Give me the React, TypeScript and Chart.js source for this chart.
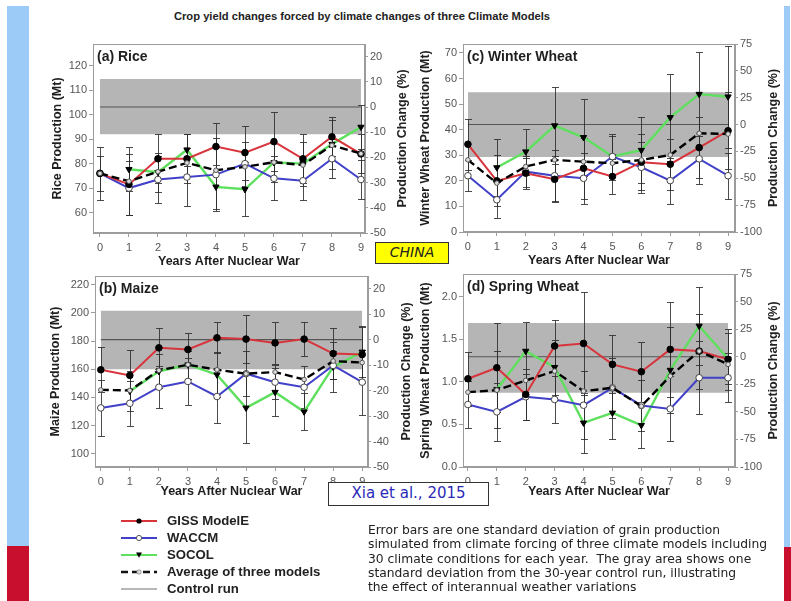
import React, { useEffect, useRef } from "react";
import { Chart, registerables } from "chart.js";

Chart.register(...registerables);

const FONT = "'Liberation Sans', Arial, Helvetica, sans-serif";
const NOTE_FONT = "'DejaVu Sans', Verdana, sans-serif";

const RED = "#d8343c";
const BLUE = "#4040c8";
const GREEN = "#5ee05e";
const BAND = "#b5b5b5";
const FRAME = "#9c9c9c";

const years = [0, 1, 2, 3, 4, 5, 6, 7, 8, 9];

// (a) Rice (Mt)
const riceGiss = [76, 71.5, 82, 82, 87, 84.5, 89, 82, 91, 84];
const riceWaccm = [76, 70, 73.5, 74.5, 75.5, 80, 74, 73, 82, 73.5];
const riceSocol = [null, 77.7, 76.5, 85.7, 70.5, 69.5, 80.5, 80, 88, 95];
const riceAvg = [76, 72.8, 76.7, 80.3, 77.3, 78.7, 80.6, 79.4, 87.5, 84.1];
const riceGissErr = [11, 12.5, 10, 10, 9.5, 11, 12, 10, 8, 8];
const riceWaccmErr = [7, 11, 9.5, 12, 15, 9, 9, 8, 8, 8];
const riceSocolErr = [null, 9, 8, 6.5, 9, 11, 8, 9, 10, 9];
const riceControl = 103.2;
const riceBand = [92, 114.7];

// (b) Maize (Mt)
const maizeGiss = [159.6, 155.6, 175.2, 174, 182.3, 181.4, 178.7, 181.4, 171.1, 170.4];
const maizeWaccm = [132.5, 135.8, 147.2, 151.3, 140.6, 156.8, 150.8, 147.2, 162.7, 150.8];
const maizeSocol = [null, 144.4, 158.5, 163.2, 156.1, 132.5, 143.7, 129.8, 161.6, 172.3];
const maizeAvg = [145.3, 144.9, 159.2, 163.2, 159.6, 156.8, 158, 152.7, 165.8, 164.7];
const maizeGissErr = [16, 18, 14, 12, 11, 17, 15, 12, 18, 20];
const maizeWaccmErr = [20, 16, 15, 17, 19, 16, 12, 15, 10, 23];
const maizeSocolErr = [null, 14, 12, 10, 16, 25, 17, 13, 18, 18];
const maizeControl = 181;
const maizeBand = [160, 201.5];

// (c) Winter Wheat (Mt)
const wwGiss = [34.3, 20, 23, 20.6, 24.9, 21.7, 27.3, 26.5, 33, 39.6];
const wwWaccm = [22, 12.6, 23.6, 22, 21, 29.5, 25.3, 20.1, 28.6, 22];
const wwSocol = [null, 25.2, 31.4, 41.6, 37, 29.5, 32, 44.8, 53.9, 52.9];
const wwAvg = [28.2, 19.1, 25.6, 28.2, 27.5, 26.9, 28.2, 30.1, 38.6, 38.3];
const wwGissErr = [10, 10, 6, 9, 12, 7, 11, 10, 12, 15];
const wwWaccmErr = [6, 7, 6, 10, 10, 9, 10, 9, 10, 9];
const wwSocolErr = [null, 11, 9, 15, 15, 8, 13, 17, 16.5, 20];
const wwControl = 42;
const wwBand = [29.3, 54.6];

// (d) Spring Wheat (Mt)
const swGiss = [1.035, 1.165, 0.851, 1.42, 1.45, 1.204, 1.118, 1.38, 1.36, 1.263];
const swWaccm = [0.733, 0.647, 0.824, 0.792, 0.725, 0.929, 0.722, 0.682, 1.047, 1.047];
const swSocol = [null, 0.91, 1.36, 1.17, 0.518, 0.635, 0.49, 1.137, 1.655, 1.27];
const swAvg = [0.878, 0.902, 1.016, 1.125, 0.89, 0.929, 0.714, 1.067, 1.36, 1.204];
const swGissErr = [0.32, 0.52, 0.3, 0.31, 0.6, 0.34, 0.35, 0.56, 0.44, 0.36];
const swWaccmErr = [0.28, 0.34, 0.27, 0.27, 0.4, 0.35, 0.3, 0.38, 0.43, 0.29];
const swSocolErr = [null, 0.45, 0.34, 0.32, 0.35, 0.31, 0.27, 0.5, 0.46, 0.3];
const swControl = 1.294;
const swBand = [0.87, 1.69];

// tick labels
const riceTicks = [60, 70, 80, 90, 100, 110, 120];
const maizeTicks = [100, 120, 140, 160, 180, 200, 220];
const wwTicks = [0, 10, 20, 30, 40, 50, 60, 70];
const swTicks = [0, 0.5, 1, 1.5, 2];
const pctTicksSmall = [-50, -40, -30, -20, -10, 0, 10, 20];
const pctTicksLarge = [-100, -75, -50, -25, 0, 25, 50, 75];

const xTitle = "Years After Nuclear War";
const rTitle = "Production Change (%)";
const mainTitle = "Crop yield changes forced by climate changes of three Climate Models";
const legendLabels = ["GISS ModelE", "WACCM", "SOCOL", "Average of three models", "Control run"];
const noteLines = [
  "Error bars are one standard deviation of grain production",
  "simulated from climate forcing of three climate models including",
  "30 climate conditions for each year.  The gray area shows one",
  "standard deviation from the 30-year control run, illustrating",
  "the effect of interannual weather variations",
];

const panels = [
  {
    label: "(a) Rice", yTitle: "Rice Production (Mt)",
    giss: riceGiss, waccm: riceWaccm, socol: riceSocol, avg: riceAvg,
    gissErr: riceGissErr, waccmErr: riceWaccmErr, socolErr: riceSocolErr,
    control: riceControl, band: riceBand, yTicks: riceTicks, pctTicks: pctTicksSmall,
    pctMin: -50, pctMax: 25, dec: 0,
    geo: { cx: 40, cy: 30, cw: 380, ch: 250, L: 93, R: 365, T: 44, B: 233, lt: 58, rt: 403, xt: 262, xMin: -0.24, xMax: 9.14 },
  },
  {
    label: "(b) Maize", yTitle: "Maize Production (Mt)",
    giss: maizeGiss, waccm: maizeWaccm, socol: maizeSocol, avg: maizeAvg,
    gissErr: maizeGissErr, waccmErr: maizeWaccmErr, socolErr: maizeSocolErr,
    control: maizeControl, band: maizeBand, yTicks: maizeTicks, pctTicks: pctTicksSmall,
    pctMin: -50, pctMax: 25, dec: 0,
    geo: { cx: 40, cy: 262, cw: 380, ch: 246, L: 95, R: 368, T: 276, B: 467, lt: 56, rt: 407, xt: 492, xMin: -0.2, xMax: 9.2 },
  },
  {
    label: "(c) Winter Wheat", yTitle: "Winter Wheat Production (Mt)",
    giss: wwGiss, waccm: wwWaccm, socol: wwSocol, avg: wwAvg,
    gissErr: wwGissErr, waccmErr: wwWaccmErr, socolErr: wwSocolErr,
    control: wwControl, band: wwBand, yTicks: wwTicks, pctTicks: pctTicksLarge,
    pctMin: -100, pctMax: 75, dec: 0,
    geo: { cx: 412, cy: 30, cw: 379, ch: 250, L: 463, R: 735, T: 44, B: 232, lt: 426, rt: 774, xt: 261, xMin: -0.17, xMax: 9.24 },
  },
  {
    label: "(d) Spring Wheat", yTitle: "Spring Wheat Production (Mt)",
    giss: swGiss, waccm: swWaccm, socol: swSocol, avg: swAvg,
    gissErr: swGissErr, waccmErr: swWaccmErr, socolErr: swSocolErr,
    control: swControl, band: swBand, yTicks: swTicks, pctTicks: pctTicksLarge,
    pctMin: -100, pctMax: 75, dec: 1,
    geo: { cx: 412, cy: 262, cw: 379, ch: 246, L: 463, R: 735, T: 274, B: 467, lt: 426, rt: 774, xt: 492, xMin: -0.17, xMax: 9.24 },
  },
];

const TITLE_SIZE = 12.5;
const TICK_SIZE = 11;

function buildConfig(s: any): any {
  const g = s.geo;
  const yMin = s.control * (1 + s.pctMin / 100);
  const yMax = s.control * (1 + s.pctMax / 100);
  const pts = (arr: any[]) => years.map((x, i) => ({ x, y: arr[i] }));
  const lh = TITLE_SIZE * 1.2;

  const errorBars = {
    id: "errorBars",
    afterDatasetDraw(chart: any, args: any) {
      if (args.index !== 5) return;
      const ctx = chart.ctx;
      const xs = chart.scales.x;
      const ys = chart.scales.y;
      ctx.save();
      ctx.strokeStyle = "rgba(45,45,45,0.85)";
      ctx.lineWidth = 1;
      const sets = [
        [s.giss, s.gissErr],
        [s.waccm, s.waccmErr],
        [s.socol, s.socolErr],
      ];
      sets.forEach(([v, e]: any) => {
        years.forEach((yr, i) => {
          if (v[i] == null || e[i] == null) return;
          const px = Math.round(xs.getPixelForValue(yr)) + 0.5;
          const top = Math.round(ys.getPixelForValue(v[i] + e[i])) + 0.5;
          const bot = Math.round(ys.getPixelForValue(v[i] - e[i])) + 0.5;
          ctx.beginPath();
          ctx.moveTo(px, top);
          ctx.lineTo(px, bot);
          ctx.moveTo(px - 3.5, top);
          ctx.lineTo(px + 3.5, top);
          ctx.moveTo(px - 3.5, bot);
          ctx.lineTo(px + 3.5, bot);
          ctx.stroke();
        });
      });
      ctx.restore();
    },
  };

  const frame = {
    id: "frame",
    beforeDatasetsDraw(chart: any) {
      const { ctx, chartArea: a } = chart;
      ctx.save();
      ctx.strokeStyle = FRAME;
      ctx.lineWidth = 1;
      ctx.strokeRect(a.left + 0.5, a.top + 0.5, a.right - a.left - 1, a.bottom - a.top - 1);
      ctx.restore();
    },
  };

  const texts = {
    id: "texts",
    afterDraw(chart: any) {
      const { ctx, chartArea: a } = chart;
      ctx.save();
      ctx.fillStyle = "#1e1e1e";
      ctx.font = `bold 14px ${FONT}`;
      ctx.textAlign = "left";
      ctx.textBaseline = "middle";
      ctx.fillText(s.label, a.left + 4, a.top + 13);
      ctx.translate(g.rt - g.cx, (a.top + a.bottom) / 2);
      ctx.rotate(-Math.PI / 2);
      ctx.textAlign = "center";
      ctx.font = `bold ${TITLE_SIZE}px ${FONT}`;
      ctx.fillStyle = "#222";
      ctx.fillText(rTitle, 0, 0);
      ctx.restore();
    },
  };

  const lineBase = { pointBorderWidth: 1, tension: 0, spanGaps: false };

  return {
    type: "line",
    data: {
      datasets: [
        { ...lineBase, label: "GISS ModelE", data: pts(s.giss), borderColor: RED, borderWidth: 2, pointRadius: 3.3, pointBackgroundColor: "#000", pointBorderColor: "#000", order: 1 },
        { ...lineBase, label: "WACCM", data: pts(s.waccm), borderColor: BLUE, borderWidth: 2, pointRadius: 3.3, pointBackgroundColor: "#fff", pointBorderColor: "#444", order: 2 },
        { ...lineBase, label: "SOCOL", data: pts(s.socol), borderColor: GREEN, borderWidth: 2.4, pointStyle: "triangle", rotation: 180, pointRadius: 3.6, pointBackgroundColor: "#000", pointBorderColor: "#000", order: 3 },
        { ...lineBase, label: "Average of three models", data: pts(s.avg), borderColor: "#000", borderWidth: 2.4, borderDash: [8, 4], pointRadius: 2.3, pointBackgroundColor: "#ddd", pointBorderColor: "#555", order: 0 },
        { label: "band", data: [{ x: 0, y: s.band[1] }, { x: 9, y: s.band[1] }], borderWidth: 0, borderColor: "rgba(0,0,0,0)", pointRadius: 0, fill: { value: s.band[0] }, backgroundColor: BAND, order: 10 },
        { label: "Control run", data: [{ x: 0, y: s.control }, { x: 9, y: s.control }], borderColor: "#555", borderWidth: 1.1, pointRadius: 0, fill: false, order: 9 },
      ],
    },
    options: {
      animation: false,
      responsive: false,
      maintainAspectRatio: false,
      layout: { padding: { top: g.T - g.cy, left: 0, right: 0, bottom: 0 } },
      plugins: { legend: { display: false }, tooltip: { enabled: false } },
      scales: {
        x: {
          type: "linear",
          min: g.xMin,
          max: g.xMax,
          afterBuildTicks: (sc: any) => { sc.ticks = years.map((v) => ({ value: v })); },
          afterFit: (sc: any) => { sc.height = g.cy + g.ch - g.B; },
          grid: { display: true, drawOnChartArea: false, drawTicks: true, tickLength: 4, color: FRAME },
          border: { display: true, color: FRAME },
          ticks: { font: { family: FONT, size: TICK_SIZE }, color: "#555", padding: 4, maxRotation: 0, autoSkip: false },
          title: { display: true, text: xTitle, color: "#1e1e1e", font: { family: FONT, size: TITLE_SIZE, weight: "bold" }, padding: { top: 0, bottom: g.cy + g.ch - g.xt - lh / 2 } },
        },
        y: {
          position: "left",
          min: yMin,
          max: yMax,
          afterBuildTicks: (sc: any) => { sc.ticks = s.yTicks.map((v: number) => ({ value: v })); },
          afterFit: (sc: any) => { sc.width = g.L - g.cx; },
          grid: { display: true, drawOnChartArea: false, drawTicks: true, tickLength: 4, color: FRAME },
          border: { display: true, color: FRAME },
          ticks: { font: { family: FONT, size: TICK_SIZE }, color: "#555", padding: 2, callback: (v: number) => v.toFixed(s.dec) },
          title: { display: true, text: s.yTitle, color: "#1e1e1e", font: { family: FONT, size: TITLE_SIZE, weight: "bold" }, padding: { top: g.lt - g.cx - lh / 2, bottom: 0 } },
        },
        y2: {
          position: "right",
          min: s.pctMin,
          max: s.pctMax,
          afterBuildTicks: (sc: any) => { sc.ticks = s.pctTicks.map((v: number) => ({ value: v })); },
          afterFit: (sc: any) => { sc.width = g.cx + g.cw - g.R; },
          grid: { display: true, drawOnChartArea: false, drawTicks: true, tickLength: 3, color: FRAME },
          border: { display: true, color: FRAME },
          ticks: { font: { family: FONT, size: TICK_SIZE }, color: "#555", padding: 2 },
          title: { display: false },
        },
      },
    },
    plugins: [frame, errorBars, texts],
  };
}

function Panel({ spec }: { spec: any }) {
  const ref = useRef<HTMLCanvasElement>(null);
  useEffect(() => {
    const chart = new Chart(ref.current as HTMLCanvasElement, buildConfig(spec));
    return () => chart.destroy();
  }, [spec]);
  const g = spec.geo;
  return (
    <canvas
      ref={ref}
      width={g.cw}
      height={g.ch}
      style={{ position: "absolute", left: g.cx, top: g.cy, width: g.cw, height: g.ch }}
    />
  );
}

function LegendSymbol({ i }: { i: number }) {
  const w = 40;
  const h = 12;
  const c = h / 2;
  if (i === 0)
    return (
      <svg width={w} height={h}>
        <line x1={2} y1={c} x2={38} y2={c} stroke={RED} strokeWidth={2} />
        <circle cx={20} cy={c} r={2.6} fill="#000" />
      </svg>
    );
  if (i === 1)
    return (
      <svg width={w} height={h}>
        <line x1={2} y1={c} x2={38} y2={c} stroke={BLUE} strokeWidth={2} />
        <circle cx={20} cy={c} r={2.6} fill="#fff" stroke="#555" strokeWidth={1} />
      </svg>
    );
  if (i === 2)
    return (
      <svg width={w} height={h}>
        <line x1={2} y1={c} x2={38} y2={c} stroke={GREEN} strokeWidth={2} />
        <polygon points={`17,${c - 2.5} 23,${c - 2.5} 20,${c + 2.8}`} fill="#000" />
      </svg>
    );
  if (i === 3)
    return (
      <svg width={w} height={h}>
        <line x1={2} y1={c} x2={38} y2={c} stroke="#111" strokeWidth={2.4} strokeDasharray="7 4" />
        <circle cx={20} cy={c} r={2.2} fill="#ddd" stroke="#888" strokeWidth={0.8} />
      </svg>
    );
  return (
    <svg width={w} height={h}>
      <line x1={2} y1={c} x2={38} y2={c} stroke="#b8b8b8" strokeWidth={2} />
    </svg>
  );
}

export default function App() {
  return (
    <div
      style={{
        position: "fixed",
        left: 0,
        top: 0,
        width: 791,
        height: 601,
        background: "#fff",
        overflow: "hidden",
        fontFamily: FONT,
      }}
    >
      <div style={{ position: "absolute", left: 7, top: 6, width: 22, height: 540, background: "#9dcbf8" }} />
      <div style={{ position: "absolute", left: 7, top: 546, width: 22, height: 55, background: "#c8102e" }} />
      <div style={{ position: "absolute", left: 784, top: 6, width: 6, height: 541, background: "#9dcbf8" }} />
      <div style={{ position: "absolute", left: 784, top: 547, width: 7, height: 54, background: "#c8102e" }} />

      <div
        style={{
          position: "absolute",
          left: 0,
          width: 724,
          top: 9,
          textAlign: "center",
          fontWeight: "bold",
          fontSize: 11.2,
          color: "#222",
          lineHeight: "14px",
        }}
      >
        {mainTitle}
      </div>

      {panels.map((p, i) => (
        <Panel key={i} spec={p} />
      ))}

      <div
        style={{
          position: "absolute",
          left: 375,
          top: 242,
          width: 74,
          height: 22,
          boxSizing: "border-box",
          background: "#ffff00",
          border: "1.5px solid #333",
          textAlign: "center",
          lineHeight: "19px",
          fontFamily: NOTE_FONT,
          fontStyle: "italic",
          fontSize: 14,
          color: "#222",
        }}
      >
        CHINA
      </div>

      <div
        style={{
          position: "absolute",
          left: 328,
          top: 482,
          width: 161,
          height: 24,
          boxSizing: "border-box",
          background: "#fff",
          border: "1.5px solid #333",
          textAlign: "center",
          lineHeight: "21px",
          fontFamily: NOTE_FONT,
          fontSize: 15,
          color: "#2b2bb8",
        }}
      >
        Xia et al., 2015
      </div>

      {legendLabels.map((t, i) => (
        <div
          key={t}
          style={{
            position: "absolute",
            left: 119,
            top: 521 + i * 16.9 - 8,
            height: 16,
            display: "flex",
            alignItems: "center",
            whiteSpace: "nowrap",
          }}
        >
          <LegendSymbol i={i} />
          <span style={{ marginLeft: 8, fontWeight: "bold", fontSize: 13.2, color: "#222", lineHeight: "16px" }}>{t}</span>
        </div>
      ))}

      <div
        style={{
          position: "absolute",
          left: 368,
          top: 523,
          fontFamily: NOTE_FONT,
          fontSize: 12.3,
          lineHeight: "14.3px",
          color: "#222",
          whiteSpace: "pre",
        }}
      >
        {noteLines.join("\n")}
      </div>
    </div>
  );
}
